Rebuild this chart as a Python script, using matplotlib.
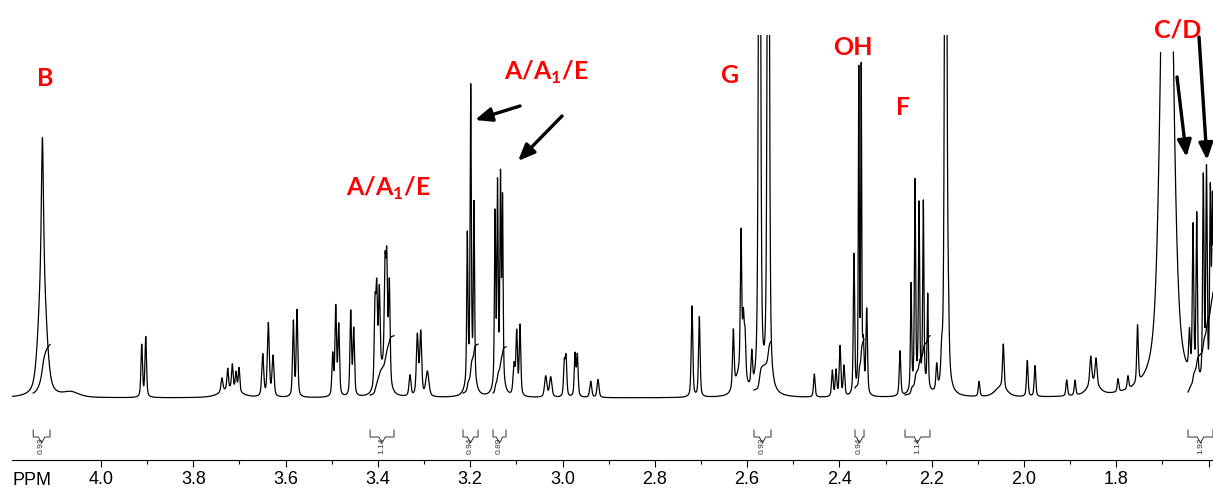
import numpy as np
import matplotlib
matplotlib.use("Agg")
import matplotlib.pyplot as plt
from matplotlib.ticker import FixedLocator, FuncFormatter

# ---------------- data ----------------
# peak list: chemical shift (ppm), height (display units), FWHM (ppm)
peak_ppm = [4.127, 4.127, 4.065,
            3.9118, 3.9031,
            3.738, 3.7255, 3.7155, 3.7075, 3.701, 3.72,
            3.6496, 3.6375, 3.6273,
            3.5833, 3.5753,
            3.498, 3.4914, 3.4849,
            3.4589, 3.4524,
            3.4063, 3.4026, 3.397, 3.3846, 3.3809, 3.3753, 3.39,
            3.3305, 3.3146, 3.3073, 3.2929,
            3.2063, 3.1989, 3.1918, 3.199,
            3.1463, 3.1409, 3.1344, 3.13, 3.138,
            3.105, 3.0993, 3.0921,
            3.0364, 3.0256,
            2.9961, 2.9924, 2.9729, 2.9679,
            2.9389, 2.9231,
            2.7194, 2.7036,
            2.6299, 2.6132, 2.6082, 2.6045, 2.59, 2.615,
            2.5731, 2.5541,
            2.4544, 2.4154, 2.4074, 2.3987, 2.3901,
            2.3684, 2.358, 2.3528, 2.3482, 2.3409,
            2.2687,
            2.2448, 2.2362, 2.2275, 2.2182, 2.2087, 2.226,
            2.1892, 2.1784, 2.1697, 2.164,
            2.0975, 2.0449, 2.05,
            1.9929, 1.9762,
            1.9075, 1.8895,
            1.8555, 1.844, 1.85,
            1.7963, 1.7747, 1.754,
            1.6902,
            1.6415, 1.6338, 1.6258, 1.6115, 1.6046, 1.5963, 1.5916]
peak_height = [125, 135, 5,
               52, 60,
               14, 21, 25, 18, 24, 8,
               42, 73, 40,
               75, 86,
               41, 88, 70,
               84, 66,
               78, 88, 84, 102, 110, 100, 25,
               21, 60, 63, 25,
               145, 285, 175, 22,
               168, 190, 196, 180, 18,
               30, 62, 70,
               21, 20,
               33, 38, 42, 41,
               16, 18,
               91, 80,
               58, 140, 55, 42, 34, 22,
               800, 800,
               23, 26, 26, 50, 30,
               140, 320, 320, 45, 85,
               45,
               105, 203, 175, 180, 93, 15,
               25, 25, 900, 45,
               15, 44, 10,
               36, 31,
               16, 15,
               28, 26, 12,
               13, 13, 58,
               750,
               40, 150, 165, 205, 212, 190, 185]
peak_fwhm = [0.005, 0.019, 0.04,
             0.004, 0.004,
             0.005, 0.004, 0.004, 0.004, 0.004, 0.05,
             0.005, 0.005, 0.005,
             0.004, 0.004,
             0.004, 0.004, 0.004,
             0.004, 0.004,
             0.004, 0.004, 0.004, 0.004, 0.004, 0.004, 0.025,
             0.005, 0.005, 0.005, 0.008,
             0.003, 0.003, 0.003, 0.02,
             0.003, 0.003, 0.003, 0.003, 0.02,
             0.005, 0.004, 0.004,
             0.006, 0.006,
             0.004, 0.004, 0.004, 0.004,
             0.005, 0.005,
             0.004, 0.004,
             0.004, 0.0035, 0.004, 0.004, 0.004, 0.025,
             0.005, 0.005,
             0.004, 0.004, 0.004, 0.004, 0.004,
             0.0035, 0.0025, 0.0025, 0.004, 0.004,
             0.004,
             0.003, 0.003, 0.003, 0.003, 0.003, 0.03,
             0.004, 0.004, 0.005, 0.004,
             0.004, 0.004, 0.03,
             0.004, 0.004,
             0.004, 0.004,
             0.005, 0.005, 0.03,
             0.004, 0.004, 0.004,
             0.026,
             0.004, 0.0035, 0.0035, 0.0035, 0.0035, 0.0035, 0.0035]

# integrals: region start / end (ppm), value, curve start level
integral_start = [4.147, 3.417, 3.2156, 3.1506, 2.5851, 2.3662, 2.2579, 1.6447]
integral_end = [4.1105, 3.3651, 3.1831, 3.1224, 2.5482, 2.3467, 2.2037, 1.5905]
integral_value = [0.93, 1.14, 0.94, 0.89, 0.93, 0.94, 1.14, 1.92]
integral_offset = [5, 3, 5, 5, 8, 10, 3, 6]

# peak assignment labels
label_text = ["B", r"A/A$_\mathbf{1}$/E", r"A/A$_\mathbf{1}$/E", "G", "OH", "F", "C/D"]
label_ppm = [4.1213, 3.3781, 3.0358, 2.6392, 2.3705, 2.2622, 1.6664]
label_level = [312, 202, 318, 315.5, 343, 283, 361]

# arrows (tail ppm, tail level, tip ppm, tip level)
arrow_tail_ppm = [3.0921, 3.0011, 1.6685, 1.6208]
arrow_tail_lvl = [292, 282, 321, 361]
arrow_tip_ppm = [3.1896, 3.0964, 1.6479, 1.6035]
arrow_tip_lvl = [278, 237, 241, 238]

major_ticks = [4.0, 3.8, 3.6, 3.4, 3.2, 3.0, 2.8, 2.6, 2.4, 2.2, 2.0, 1.8, 1.6]
minor_ticks = [3.9, 3.7, 3.5, 3.3, 3.1, 2.9, 2.7, 2.5, 2.3, 2.1, 1.9, 1.7]

# ---------------- build spectrum ----------------
XL, XR = 4.1929, 1.5905
x = np.linspace(XL, XR, 40000)


def pvoigt(xx, c, h, w, eta=0.5):
    d = (xx - c) / (w / 2.0)
    return h * (eta / (1 + d ** 2) + (1 - eta) * np.exp(-np.log(2) * d ** 2))


spec = np.zeros_like(x)
for c, h, w in zip(peak_ppm, peak_height, peak_fwhm):
    spec += pvoigt(x, c, h, w)

# display ceiling for the off-scale solvent peak
disp = np.where((x < 1.75) & (spec > 346), np.nan, spec)

# ---------------- figure ----------------
plt.rcParams["mathtext.fontset"] = "custom"
plt.rcParams["mathtext.bf"] = "Lato:bold"
plt.rcParams["mathtext.rm"] = "Lato:bold"

fig = plt.figure(figsize=(12.13, 4.88), dpi=100)
ax = fig.add_axes([12 / 1213, 28 / 488, 1201 / 1213, 425 / 488])
ax.plot(x, disp, color="black", lw=0.9)

# integral curves and brackets
for s, e, v, off in zip(integral_start, integral_end, integral_value, integral_offset):
    m = (x <= s) & (x >= e)
    cum = np.cumsum(spec[m])
    cum = cum / cum[-1] * v * 52 + off
    ax.plot(x[m], cum, color="black", lw=0.9)
    xc = (s + e) / 2
    dv = 0.007
    bx = [s, s, xc + dv, xc, xc - dv, e, e]
    by = [-32, -39, -39, -45, -39, -39, -32]
    ax.plot(bx, by, color="#333333", lw=0.7, clip_on=False)
    ax.text(xc, -40, f"{v:.2f}", rotation=90, ha="center", va="top",
            fontsize=6, family="Liberation Sans", color="#333333", clip_on=False)

ax.set_xlim(XL, XR)
ax.set_ylim(-62, 363)
for sp in ["left", "right", "top"]:
    ax.spines[sp].set_visible(False)
ax.spines["bottom"].set_linewidth(0.8)
ax.set_yticks([])
ax.xaxis.set_major_locator(FixedLocator(major_ticks))
ax.xaxis.set_minor_locator(FixedLocator(minor_ticks))
ax.xaxis.set_major_formatter(FuncFormatter(lambda v, p: f"{v:.1f}" if v > 1.7 else ""))
ax.tick_params(axis="x", which="major", direction="out", length=5, width=0.8, pad=3,
               labelsize=13, labelcolor="black")
ax.tick_params(axis="x", which="minor", direction="out", length=3, width=0.8)
for lab in ax.get_xticklabels():
    lab.set_family("Liberation Sans")
ax.text(XL, -87, "PPM", ha="left", va="baseline", fontsize=13,
        family="Liberation Sans", color="black")

for t, px, lv in zip(label_text, label_ppm, label_level):
    ax.text(px, lv, t, ha="center", va="baseline", fontsize=18, family="Lato",
            fontweight="bold", color="#ff0000", clip_on=False)

for tp, tl, hp, hl in zip(arrow_tail_ppm, arrow_tail_lvl, arrow_tip_ppm, arrow_tip_lvl):
    ax.annotate("", xy=(hp, hl), xytext=(tp, tl), annotation_clip=False,
                arrowprops=dict(arrowstyle="-|>,head_length=1.0,head_width=0.42",
                                lw=2.4, color="black", shrinkA=0, shrinkB=0))

fig.savefig("out.png", dpi=100)
